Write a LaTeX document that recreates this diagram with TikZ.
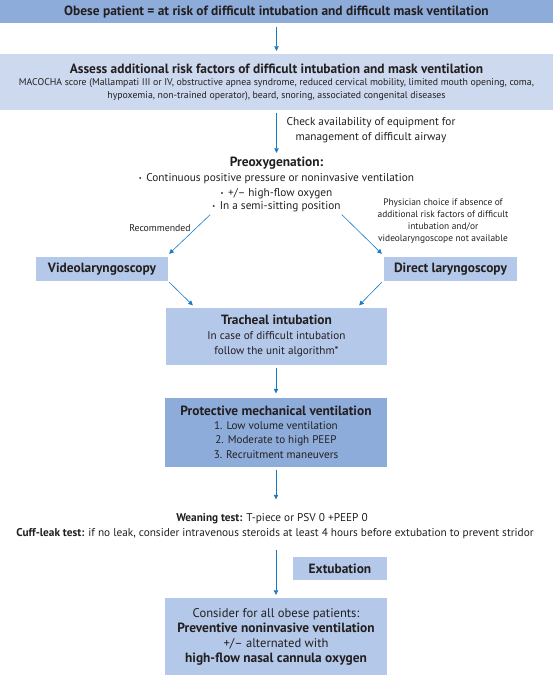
\documentclass[tikz,border=0pt]{standalone}
\usepackage{fontspec}
\setmainfont{PT Sans}
\usetikzlibrary{arrows.meta}
\definecolor{dblue}{HTML}{8DACDA}
\definecolor{mblue}{HTML}{B4C8E9}
\definecolor{lblue}{HTML}{CDD9EE}
\definecolor{ablue}{HTML}{1A7AC4}
\definecolor{txt}{HTML}{231F20}
\newcommand{\fs}[2]{\fontsize{#1}{#2}\selectfont}
\newcommand{\bul}{\raisebox{0.6pt}{\fs{6.5}{6.5}\textbullet}\hspace{4.5pt}}
\begin{document}
\begin{tikzpicture}[x=1pt,y=-1pt,
  box/.style={inner sep=0pt,align=center,text=txt},
  plain/.style={inner sep=0pt,align=center,text=txt},
  arr/.style={draw=ablue,line width=0.6pt,-{Triangle[width=4.5pt,length=4.5pt]}}]
\useasboundingbox (0,0) rectangle (553,675);
\node[box,fill=dblue,minimum width=553pt,minimum height=23.3pt,font=\fs{13.4}{15}\bfseries] (b1) at (276.5,11.65)
  {Obese patient = at risk of difficult intubation and difficult mask ventilation};
\node[box,fill=lblue,minimum width=553pt,minimum height=56pt,font=\fs{9.8}{12.5}] (b2) at (276.5,82)
  {\fs{13.4}{12.5}\bfseries Assess additional risk factors of difficult intubation and mask ventilation\\
   MACOCHA score (Mallampati III or IV, obstructive apnea syndrome, reduced cervical mobility, limited mouth opening, coma,\\
   hypoxemia, non-trained operator), beard, snoring, associated congenital diseases};
\node[plain,anchor=base,font=\fs{13.4}{15}\bfseries] (preox) at (276.5,166.5) {Preoxygenation:};
\node[plain,anchor=base,font=\fs{11.3}{14}] (l1) at (276.5,181) {\bul Continuous positive pressure or noninvasive ventilation};
\node[plain,anchor=base,font=\fs{11.3}{14}] (l2) at (276.5,196) {\bul +/-- high-flow oxygen};
\node[plain,anchor=base,font=\fs{11.3}{14}] (semi) at (276.5,209) {\bul In a semi-sitting position};
\node[plain,font=\fs{11.3}{15}] (chk) at (371,130.5)
  {Check availability of equipment for\\ management of difficult airway};
\node[plain,font=\fs{9.8}{12}] (rec) at (160,228.5) {Recommended};
\node[plain,font=\fs{9.4}{12}] (phys) at (443,221)
  {Physician choice if absence of\\ additional risk factors of difficult\\ intubation and/or\\ videolaryngoscope not available};
\node[box,fill=mblue,minimum width=132pt,minimum height=24pt,font=\fs{13.4}{15}\bfseries] (video) at (102,269)
  {Videolaryngoscopy};
\node[box,fill=mblue,minimum width=133pt,minimum height=24pt,font=\fs{13.4}{15}\bfseries] (direct) at (450.5,269)
  {Direct laryngoscopy};
\node[box,fill=mblue,minimum width=221pt,minimum height=57pt,font=\fs{11.2}{15}] (trach) at (276.5,336)
  {\fs{13.4}{15}\bfseries Tracheal intubation\\
   In case of difficult intubation\\ follow the unit algorithm*};
\node[box,fill=dblue,minimum width=222pt,minimum height=69pt,font=\fs{11.1}{14.3}] (prot) at (276,432)
  {\fs{13.4}{14.3}\bfseries Protective mechanical ventilation\\
   1. Low volume ventilation\\ 2. Moderate to high PEEP\\ 3. Recruitment maneuvers};
\node[plain,anchor=base,font=\fs{11.3}{14}] (wean) at (272,521.5)
  {\textbf{Weaning test:} T-piece or PSV 0 +PEEP 0};
\node[plain,anchor=base,font=\fs{11.3}{14}] (cuff) at (275,536.5)
  {\textbf{Cuff-leak test:} if no leak, consider intravenous steroids at least 4 hours before extubation to prevent stridor};
\node[box,fill=mblue,minimum width=94pt,minimum height=23pt,font=\fs{13.4}{15}\bfseries] (extub) at (340,568.5)
  {Extubation};
\node[box,fill=mblue,minimum width=222pt,minimum height=77pt,font=\fs{12.6}{15}] (final) at (276,636.5)
  {Consider for all obese patients:\\
   \fs{13.4}{15}\bfseries Preventive noninvasive ventilation\\
   +/-- alternated with\\
   \fs{13.4}{15}\bfseries high-flow nasal cannula oxygen};
% connectors
\draw[arr,shorten <=3pt,shorten >=3pt] (b1.south) -- (b2.north);
\draw[arr,shorten <=3pt,shorten >=4pt] (b2.south) -- (b2.south |- preox.north);
\draw[arr] ([shift={(-2pt,-3pt)}]semi.south west) -- ([shift={(1pt,3pt)}]video.north east);
\draw[arr] ([shift={(1pt,-3pt)}]semi.south east) -- ([shift={(-2pt,3pt)}]direct.north west);
\draw[arr] ([shift={(1pt,-1pt)}]video.south east) -- ([shift={(27pt,2pt)}]trach.north west);
\draw[arr] ([shift={(-2pt,-1pt)}]direct.south west) -- ([shift={(-28pt,2pt)}]trach.north east);
\draw[arr,shorten <=3pt,shorten >=4pt] (trach.south -| prot.north) -- (prot.north);
\draw[arr,shorten <=3pt,shorten >=14pt] (prot.south) -- (prot.south |- wean.north);
\draw[arr,shorten <=11pt,shorten >=3pt] (cuff.south -| final.north) -- (final.north);
\end{tikzpicture}
\end{document}
